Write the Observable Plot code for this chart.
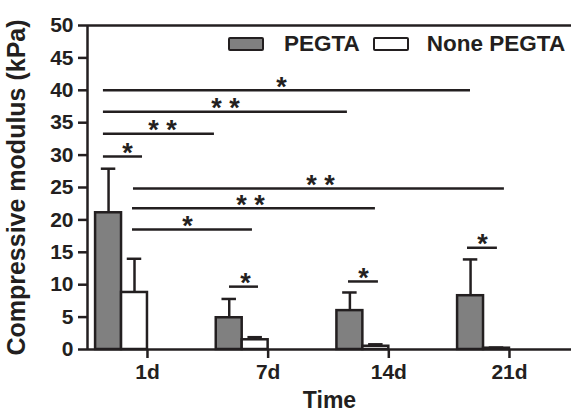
<!DOCTYPE html>
<html>
<head>
<meta charset="utf-8">
<script src="https://cdn.jsdelivr.net/npm/d3@7"></script>
<script src="https://cdn.jsdelivr.net/npm/@observablehq/plot@0.6"></script>
<style>
  html, body { margin: 0; padding: 0; background: #fff; }
  #wrap { position: relative; width: 571px; height: 415px; font-family: "Liberation Sans", Arial, sans-serif; }
  .legend { position: absolute; top: 31px; left: 228px; display: flex; align-items: center; font-weight: bold; font-size: 22.5px; color: #231f20; white-space: nowrap; }
  .sw { width: 32px; height: 10px; border: 2.5px solid #231f20; border-radius: 2px; }
</style>
</head>
<body>
<div id="wrap"></div>
<script>
// ---- data ----
const times = ["1d", "7d", "14d", "21d"];
const pegta = [21.1, 4.9, 6.0, 8.3];
const pegtaSD = [6.8, 2.9, 2.8, 5.6];
const nonePegta = [8.8, 1.5, 0.5, 0.2];
const nonePegtaSD = [5.2, 0.4, 0.3, 0.1];
const yTicks = [0, 5, 10, 15, 20, 25, 30, 35, 40, 45, 50];
const seriesNames = ["PEGTA", "None PEGTA"];

// significance brackets (x in time-group units, y in kPa)
const sigY      = [29.8, 33.3, 36.7, 40.0, 24.85, 21.8, 18.5, 9.7, 10.5, 15.7];
const sigX1     = [-0.365, -0.365, -0.365, -0.365, -0.116, -0.124, -0.124, 0.680, 1.666, 2.652];
const sigX2     = [-0.041, 0.555, 1.657, 2.677, 2.958, 1.889, 0.870, 0.920, 1.914, 2.900];
const sigLabelX = [-0.166, 0.124, 0.646, 1.110, 1.434, 0.854, 0.331, 0.812, 1.790, 2.776];
const sigLabel  = ["*", "* *", "* *", "*", "* *", "* *", "*", "*", "*", "*"];

// ---- build tables ----
const barW = 0.215; // width of one bar in group units
const bars = [];
times.forEach((t, i) => {
  bars.push({g: i, s: seriesNames[0], v: pegta[i], sd: pegtaSD[i], x1: i - 2 * barW, x2: i - barW});
  bars.push({g: i, s: seriesNames[1], v: nonePegta[i], sd: nonePegtaSD[i], x1: i - barW, x2: i});
});
bars.forEach(d => { d.xc = (d.x1 + d.x2) / 2; });
const sig = sigY.map((y, i) => ({y, x1: sigX1[i], x2: sigX2[i], lx: sigLabelX[i], label: sigLabel[i]}));

const ink = "#231f20";
const gray = "#808080";
const xDomain = [-0.497, 3.514];
const cap = 0.06;

const chart = Plot.plot({
  width: 571,
  height: 415,
  marginLeft: 87,
  marginRight: 0,
  marginTop: 25,
  marginBottom: 66,
  style: {fontFamily: "Liberation Sans, Arial, sans-serif", background: "white", color: ink, overflow: "visible"},
  x: {domain: xDomain, axis: null},
  y: {domain: [0, 50], axis: null},
  marks: [
    // bars
    Plot.rectY(bars, {x1: "x1", x2: "x2", y: "v", fill: d => d.s === seriesNames[0] ? gray : "white", stroke: ink, strokeWidth: 2.5}),
    // error bars
    Plot.ruleX(bars, {x: "xc", y1: "v", y2: d => d.v + d.sd, stroke: ink, strokeWidth: 2.5}),
    Plot.ruleY(bars, {y: d => d.v + d.sd, x1: d => d.xc - cap, x2: d => d.xc + cap, stroke: ink, strokeWidth: 2.5}),
    // significance
    Plot.ruleY(sig, {y: "y", x1: "x1", x2: "x2", stroke: ink, strokeWidth: 2.5}),
    Plot.text(sig, {x: "lx", y: "y", text: "label", fontSize: 27, fontWeight: "bold", fill: ink, lineAnchor: "middle", dy: -3}),
    // axes lines
    Plot.ruleY([0], {stroke: ink, strokeWidth: 2.5}),
    Plot.ruleY([50], {stroke: ink, strokeWidth: 2.5}),
    Plot.ruleX([xDomain[0]], {stroke: ink, strokeWidth: 2.5}),
    Plot.axisY({ticks: yTicks, tickSize: 9, tickPadding: 5, fontSize: 21, fontWeight: "bold", strokeWidth: 2.5, stroke: ink, fill: ink,
      label: "Compressive modulus (kPa)", labelAnchor: "center", labelArrow: "none", labelOffset: 80}),
    Plot.axisX({ticks: [0, 1, 2, 3], tickFormat: i => times[i], tickSize: 9, tickPadding: 6, fontSize: 21, fontWeight: "bold", strokeWidth: 2.5, stroke: ink, fill: ink,
      label: "Time", labelAnchor: "center", labelArrow: "none", labelOffset: 58})
  ]
});
const wrap = document.getElementById("wrap");
wrap.appendChild(chart);

// axis title sizes
chart.querySelectorAll("g[aria-label='y-axis label'] text").forEach(t => { t.setAttribute("font-size", "25"); t.setAttribute("font-weight", "bold"); });
chart.querySelectorAll("g[aria-label='x-axis label'] text").forEach(t => { t.setAttribute("font-size", "23"); t.setAttribute("font-weight", "bold"); });

// legend inside plot area
const leg = document.createElement("div");
leg.className = "legend";
leg.innerHTML = `<span class="sw" style="background:${gray}"></span><span style="margin:0 13px 0 20px">${seriesNames[0]}</span>` +
  `<span class="sw" style="background:white"></span><span style="margin-left:18px">${seriesNames[1]}</span>`;
wrap.appendChild(leg);
</script>
</body>
</html>
